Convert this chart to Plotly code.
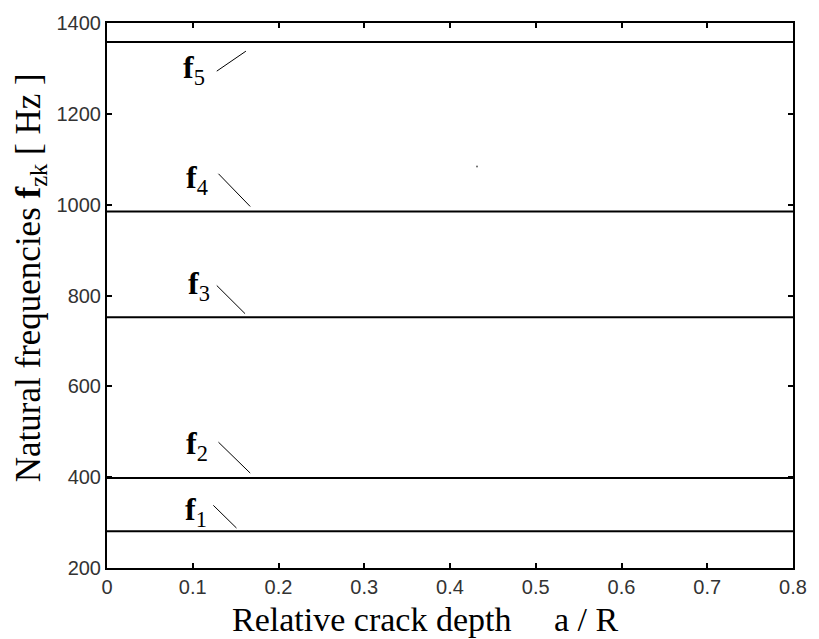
import plotly.graph_objects as go

# Natural frequencies of the shaft modes vs relative crack depth
crack_depth = [0.0, 0.8]
freq_f1 = [281, 281]
freq_f2 = [398, 398]
freq_f3 = [752, 752]
freq_f4 = [985, 985]
freq_f5 = [1358, 1358]

mode_index = ["1", "2", "3", "4", "5"]
# label anchor (x, y) and leader line endpoints (x0, y0, x1, y1) in data units
label_pos = [(0.104, 325), (0.105, 470), (0.107, 822), (0.105, 1055), (0.102, 1297)]
leader_lines = [
    (0.124, 338, 0.151, 288),
    (0.130, 477, 0.167, 409),
    (0.128, 822, 0.161, 760),
    (0.130, 1068, 0.167, 996),
    (0.128, 1294, 0.162, 1338),
]
stray_point = ([0.4315], [1084])

x_ticks = [0, 0.1, 0.2, 0.3, 0.4, 0.5, 0.6, 0.7, 0.8]
x_tick_text = ["0", "0.1", "0.2", "0.3", "0.4", "0.5", "0.6", "0.7", "0.8"]
y_ticks = [200, 400, 600, 800, 1000, 1200, 1400]

x_title = "Relative crack depth\u00a0\u00a0\u00a0\u00a0\u00a0a / R"
y_title = "Natural frequencies <b>f</b><sub>zk</sub> [ Hz ]"

SERIF = "Liberation Serif"
SANS = "Liberation Sans"

fig = go.Figure()
for ys in [freq_f1, freq_f2, freq_f3, freq_f4, freq_f5]:
    fig.add_trace(go.Scatter(x=crack_depth, y=ys, mode="lines",
                             line=dict(color="black", width=2), showlegend=False,
                             hoverinfo="skip"))

for (x0, y0, x1, y1) in leader_lines:
    fig.add_trace(go.Scatter(x=[x0, x1], y=[y0, y1], mode="lines",
                             line=dict(color="black", width=1), showlegend=False,
                             hoverinfo="skip"))

fig.add_trace(go.Scatter(x=stray_point[0], y=stray_point[1], mode="markers",
                         marker=dict(color="#666", size=2), showlegend=False,
                         hoverinfo="skip"))

for idx, (lx, ly) in zip(mode_index, label_pos):
    fig.add_annotation(x=lx, y=ly, text="<b>f</b><sub>" + idx + "</sub>",
                       showarrow=False, xanchor="center", yanchor="middle",
                       font=dict(family=SERIF, size=32, color="black"))

# axis titles placed as paper-anchored annotations
fig.add_annotation(xref="paper", yref="paper", x=0.1796, y=-0.095,
                   text=x_title, showarrow=False, xanchor="left", yanchor="middle",
                   font=dict(family=SERIF, size=34, color="black"))
fig.add_annotation(xref="paper", yref="paper", x=-0.112, y=0.532,
                   text=y_title, showarrow=False, textangle=-90,
                   xanchor="center", yanchor="middle",
                   font=dict(family=SERIF, size=35, color="black"))

fig.update_layout(
    width=819, height=639,
    margin=dict(l=107, r=16, t=22, b=71),
    paper_bgcolor="white", plot_bgcolor="white",
    xaxis=dict(
        range=[0, 0.8], tickvals=x_ticks, ticktext=x_tick_text,
        ticks="inside", ticklen=5, tickwidth=1.5, tickcolor="black",
        showline=True, linecolor="black", linewidth=2, mirror="ticks",
        showgrid=False, zeroline=False,
        tickfont=dict(family=SANS, size=20, color="#333"),
    ),
    yaxis=dict(
        range=[200, 1400], tickvals=y_ticks,
        ticks="inside", ticklen=5, tickwidth=1.5, tickcolor="black",
        showline=True, linecolor="black", linewidth=2, mirror="ticks",
        showgrid=False, zeroline=False,
        tickfont=dict(family=SANS, size=20, color="#333"),
    ),
)

fig.write_html("out.html")
